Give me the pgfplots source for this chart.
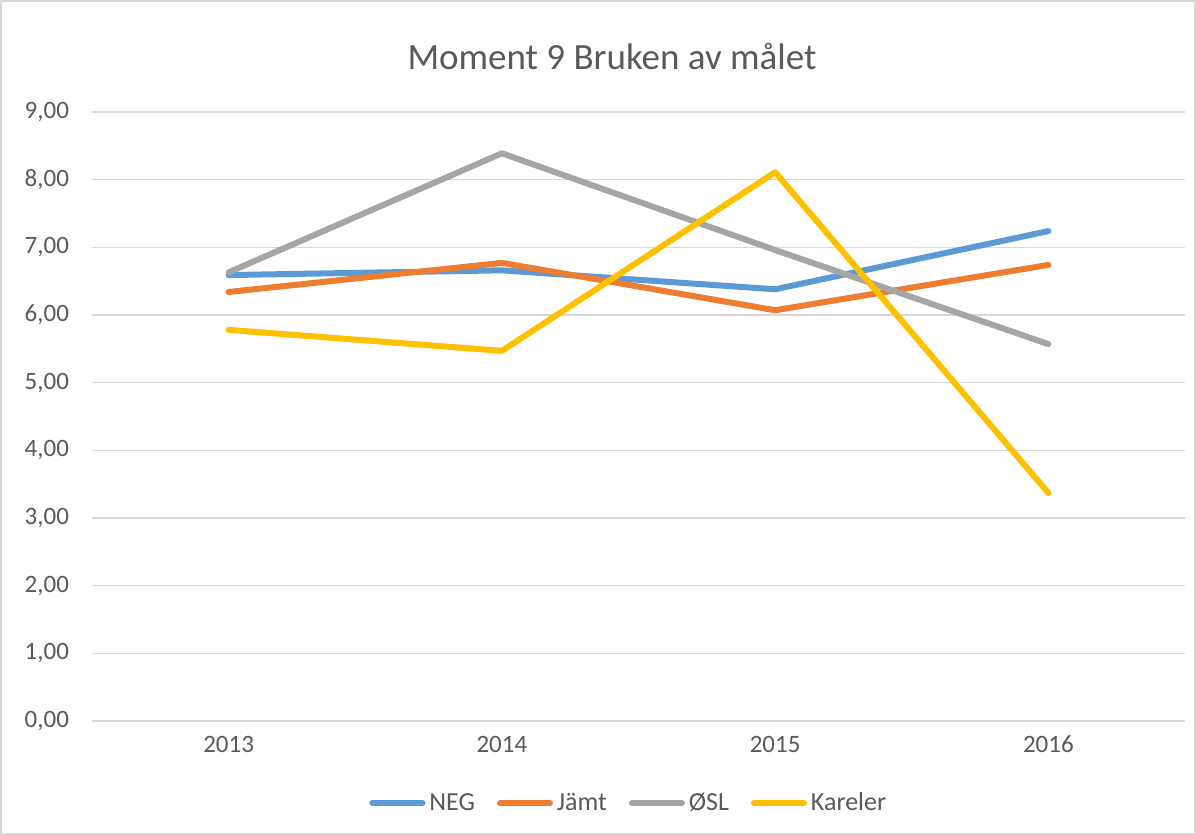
\documentclass[border=0pt]{standalone}
\usepackage{pgfplots}
\pgfplotsset{compat=1.18}
\usepackage{fontspec}
\setmainfont{Carlito}
\definecolor{negc}{HTML}{5B9BD5}
\definecolor{jamtc}{HTML}{ED7D31}
\definecolor{oslc}{HTML}{A5A5A5}
\definecolor{karc}{HTML}{FFC000}
\definecolor{gridc}{HTML}{D9D9D9}
\definecolor{textc}{HTML}{595959}
\begin{document}
\begin{tikzpicture}
\path[use as bounding box] (0,0) rectangle (598bp,417.5bp);
\draw[gridc, line width=1bp] (0.5bp,0.5bp) rectangle (597.5bp,417bp);
\node[text=textc, font=\fontsize{18.5bp}{22bp}\selectfont] at (306bp,389bp) {Moment 9 Bruken av målet};
\begin{axis}[
  at={(46bp,57bp)}, anchor=south west, scale only axis,
  width=546.5bp, height=304.5bp,
  xmin=-0.5, xmax=3.5, ymin=0, ymax=9,
  xtick={0,1,2,3}, xticklabels={2013,2014,2015,2016},
  ytick={0,1,...,9},
  axis line style={draw=none},
  major tick length=0pt,
  ymajorgrids, grid style={draw=gridc, line width=0.75bp},
  tick label style={text=textc, font=\fontsize{12.5bp}{14bp}\selectfont},
  xticklabel style={yshift=-4bp},
  yticklabel style={xshift=-8bp},
  /pgf/number format/.cd, fixed, fixed zerofill, precision=2, use comma, assume math mode=true,
  /pgfplots/.cd,
  legend columns=4,
  legend style={draw=none, at={(0.492,-0.135)}, anchor=center,
    font=\fontsize{13bp}{15bp}\selectfont, text=textc,
    /tikz/every odd column/.append style={column sep=0pt},
    /tikz/every even column/.append style={column sep=9bp}},
  legend image code/.code={\draw[#1, line width=3bp, line cap=round] (0bp,0bp) -- (25bp,0bp);},
  every axis plot/.append style={line width=3bp, line cap=round, line join=round},
]
\addplot[negc] coordinates {(0,6.59) (1,6.66) (2,6.38) (3,7.24)};
\addlegendentry{NEG}
\addplot[jamtc] coordinates {(0,6.34) (1,6.77) (2,6.07) (3,6.74)};
\addlegendentry{Jämt}
\addplot[oslc] coordinates {(0,6.63) (1,8.39) (2,6.96) (3,5.57)};
\addlegendentry{ØSL}
\addplot[karc] coordinates {(0,5.78) (1,5.47) (2,8.11) (3,3.37)};
\addlegendentry{Kareler}
\end{axis}
\end{tikzpicture}
\end{document}
